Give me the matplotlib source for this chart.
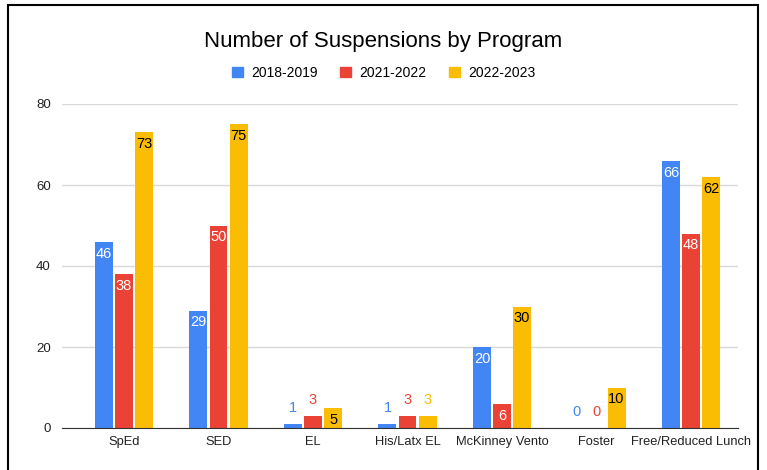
import matplotlib.pyplot as plt
import numpy as np
from matplotlib.patches import Rectangle, Patch

plt.rcParams['font.family'] = ['Liberation Sans', 'DejaVu Sans']

programs = ['SpEd', 'SED', 'EL', 'His/Latx EL', 'McKinney Vento', 'Foster', 'Free/Reduced Lunch']
years = ['2018-2019', '2021-2022', '2022-2023']
y2018 = [46, 29, 1, 1, 20, 0, 66]
y2021 = [38, 50, 3, 3, 6, 0, 48]
y2022 = [73, 75, 5, 3, 30, 10, 62]

colors = ['#4285F4', '#EA4335', '#FBBC04']
inside_text = ['white', 'white', 'black']

fig = plt.figure(figsize=(7.67, 4.70), dpi=100)
ax = fig.add_axes([62 / 767, 42 / 470, 676 / 767, 324 / 470])

x = np.arange(len(programs))
w = 0.19
step = 0.212
for i, vals in enumerate([y2018, y2021, y2022]):
    pos = x + (i - 1) * step
    ax.bar(pos, vals, width=w, color=colors[i], zorder=3)
    for p, v in zip(pos, vals):
        if v >= 5:
            ax.text(p, v - 1.2, str(v), ha='center', va='top', fontsize=10.5,
                    color=inside_text[i], zorder=4)
        else:
            ax.text(p, v + 2.2, str(v), ha='center', va='bottom', fontsize=10.5,
                    color=colors[i], zorder=4)

ax.set_xlim(-0.656, 6.497)
ax.set_ylim(0, 80)
ax.set_yticks([0, 20, 40, 60, 80])
ax.set_xticks(x)
ax.set_xticklabels(programs, fontsize=9.3)
ax.tick_params(axis='both', length=0, colors='#222222')
ax.tick_params(axis='y', pad=8, labelsize=9.5)
ax.tick_params(axis='x', pad=6)
ax.grid(axis='y', color='#d9d9d9', linewidth=1, zorder=0)
for s in ['top', 'right', 'left']:
    ax.spines[s].set_visible(False)
ax.spines['bottom'].set_color('#333333')
ax.spines['bottom'].set_zorder(5)

fig.text(0.5, 1 - 41 / 470, 'Number of Suspensions by Program', ha='center', va='center',
         fontsize=16, color='black')
handles = [Patch(color=c) for c in colors]
fig.legend(handles, years, loc='center', bbox_to_anchor=(0.5, 1 - 73 / 470), ncol=3,
           frameon=False, fontsize=10, handlelength=0.8, handleheight=0.8,
           columnspacing=1.6, handletextpad=0.6)

frame = Rectangle((7.5 / 767, -0.1), 750 / 767, 1.1 - 5 / 470, transform=fig.transFigure,
                  fill=False, edgecolor='black', linewidth=1.5, clip_on=False)
fig.patches.append(frame)

fig.savefig('out.png', dpi=100)
